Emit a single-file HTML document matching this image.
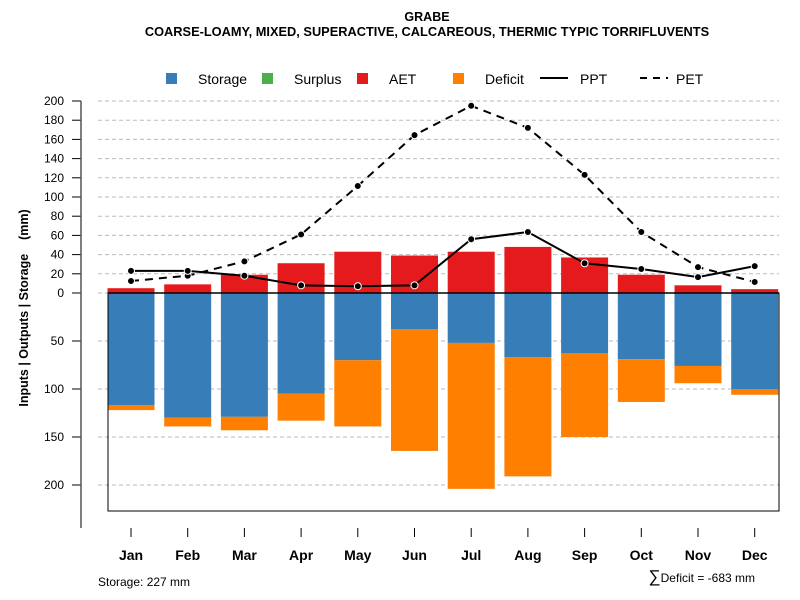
<!DOCTYPE html>
<html><head><meta charset="utf-8"><style>
body{margin:0;background:#fff}
svg{display:block;font-family:"Liberation Sans",sans-serif}
</style></head><body>
<svg id="c" width="800" height="600">
<text x="427" y="21" text-anchor="middle" font-size="12.5" font-weight="bold">GRABE</text>
<text x="427" y="36" text-anchor="middle" font-size="12.8" font-weight="bold">COARSE-LOAMY, MIXED, SUPERACTIVE, CALCAREOUS, THERMIC TYPIC TORRIFLUVENTS</text>
<text transform="translate(28,308) rotate(-90)" text-anchor="middle" font-size="12.5" font-weight="bold" style="white-space:pre">Inputs | Outputs | Storage    (mm)</text>
<text x="98" y="586" font-size="12">Storage: 227 mm</text>
<text x="755" y="582" text-anchor="end" font-size="12"><tspan font-size="17">∑</tspan>Deficit = -683 mm</text>
<g id="legend">
<rect x="166" y="73" width="11" height="11" fill="#377eb8"/>
<text x="198" y="84" font-size="14">Storage</text>
<rect x="262" y="73" width="11" height="11" fill="#4daf4a"/>
<text x="294" y="84" font-size="14">Surplus</text>
<rect x="357" y="73" width="11" height="11" fill="#e41a1c"/>
<text x="389" y="84" font-size="14">AET</text>
<rect x="453" y="73" width="11" height="11" fill="#ff7f00"/>
<text x="485" y="84" font-size="14">Deficit</text>
<line x1="540" y1="78" x2="568" y2="78" stroke="#000" stroke-width="2"/>
<text x="580" y="84" font-size="14">PPT</text>
<line x1="640" y1="78" x2="668" y2="78" stroke="#000" stroke-width="2" stroke-dasharray="7,6"/>
<text x="676" y="84" font-size="14">PET</text>
</g>
<g id="g"></g>
</svg>
<script>
const months=["Jan","Feb","Mar","Apr","May","Jun","Jul","Aug","Sep","Oct","Nov","Dec"];
const aet=[5,9,19,31,43,39,43,48,37,19,8,4];
const storage=[117,130,129,105,70,37.5,52,67,62.5,69,76,100];
const deficit=[5,9,14,28,69,127,152,124,87.5,44.5,18,6];
const ppt=[23,23,18,8,7,8,56,63.5,31,25,16.5,28];
const pet=[12.5,18,33,61,111.5,164.5,195,172,123,63.5,27,11.5];
const upTicks=[0,20,40,60,80,100,120,140,160,180,200];
const downTicks=[50,100,150,200];
const NS="http://www.w3.org/2000/svg";
const g=document.getElementById('g');
const y0=293,k=0.96;
const yUp=v=>y0-v*k, yDn=v=>y0+v*k;
const xc=i=>131+i*56.7;
function mk(t,a){const e=document.createElementNS(NS,t);for(const n in a)e.setAttribute(n,a[n]);g.appendChild(e);return e;}
upTicks.forEach(v=>{
 const l=mk('line',{x1:98,x2:779,y1:yUp(v),y2:yUp(v),stroke:'#bbb','stroke-dasharray':'4,3'});
 
 
 const t=mk('line',{x1:72,x2:81,y1:yUp(v),y2:yUp(v),stroke:'#000'});
 
 
 const tx=mk('text',{x:64,y:yUp(v)+4,'text-anchor':'end','font-size':12});tx.textContent=v;
 
 
});
downTicks.forEach(v=>{
 const l=mk('line',{x1:98,x2:779,y1:yDn(v),y2:yDn(v),stroke:'#bbb','stroke-dasharray':'4,3'});
 
 
 const t=mk('line',{x1:72,x2:81,y1:yDn(v),y2:yDn(v),stroke:'#000'});
 
 
 const tx=mk('text',{x:64,y:yDn(v)+4,'text-anchor':'end','font-size':12});tx.textContent=v;
 
 
});
const ax=mk('line',{x1:81,x2:81,y1:101,y2:528,stroke:'#555','stroke-width':1.5});


const bw=47;
months.forEach((m,i)=>{
 const x=xc(i)-bw/2;
 const a=mk('rect',{x:x,y:yUp(aet[i]),width:bw,height:aet[i]*k,fill:'#e41a1c'});
 
 
 const s=mk('rect',{x:x,y:y0,width:bw,height:storage[i]*k,fill:'#377eb8'});
 
 
 const d=mk('rect',{x:x,y:yDn(storage[i]),width:bw,height:deficit[i]*k,fill:'#ff7f00'});
 
 
 const t=mk('line',{x1:xc(i),x2:xc(i),y1:528,y2:537,stroke:'#000'});
 
 
 const tx=mk('text',{x:xc(i),y:560,'text-anchor':'middle','font-size':14,'font-weight':'bold'});tx.textContent=m;
 
 
});
const box=mk('rect',{x:108,y:y0,width:671,height:511-y0,fill:'none',stroke:'#000'});


const zl=mk('line',{x1:108,x2:779,y1:y0,y2:y0,stroke:'#000','stroke-width':1.5});


function series(arr,name,dash){
 const p=mk('polyline',{points:arr.map((v,i)=>xc(i)+','+yUp(v)).join(' '),fill:'none',stroke:'#000','stroke-width':2,'stroke-dasharray':dash});
 
 
 arr.forEach((v,i)=>{
  const c=mk('circle',{cx:xc(i),cy:yUp(v),r:3.5,fill:'#000',stroke:'#fff','stroke-width':1});
  
  
 });
}
series(pet,'pet','8,6');
series(ppt,'ppt','none');
</script>
</body></html>
